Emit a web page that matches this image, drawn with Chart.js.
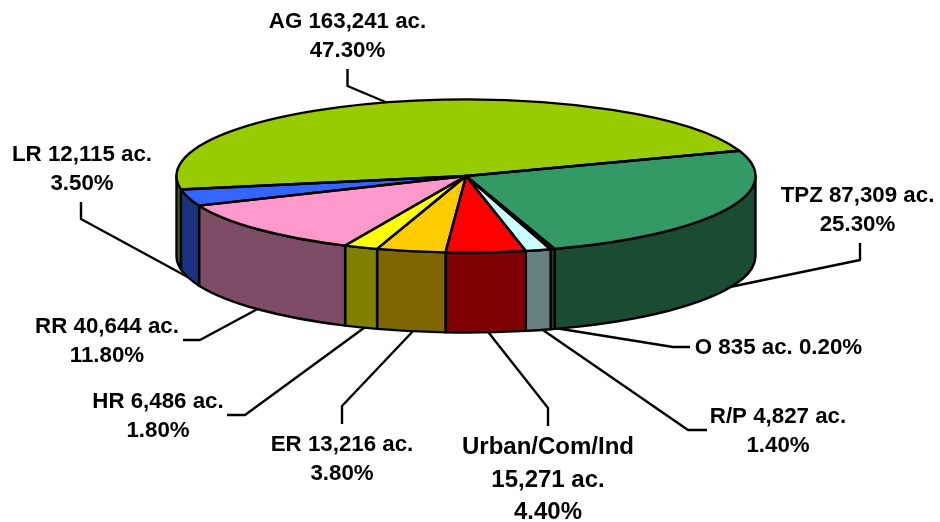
<!DOCTYPE html>
<html>
<head>
<meta charset="utf-8">
<title>Land use pie</title>
<script src="https://cdn.jsdelivr.net/npm/chart.js@4/dist/chart.umd.min.js"></script>
<style>
  html, body { margin: 0; padding: 0; background: #fff; }
  canvas { display: block; }
</style>
</head>
<body>
<canvas id="pieChart" width="940" height="522"></canvas>
<script>
const categories = ['AG', 'TPZ', 'O', 'R/P', 'Urban/Com/Ind', 'ER', 'HR', 'RR', 'LR'];
const acres = [163241, 87309, 835, 4827, 15271, 13216, 6486, 40644, 12115];
const percents = [47.3, 25.3, 0.2, 1.4, 4.4, 3.8, 1.8, 11.8, 3.5];
const colors = ['#99CC00', '#339966', '#666666', '#CCFFFF', '#FF0000', '#FFCC00', '#FFFF00', '#FF99CC', '#3366FF'];

// 3d look: squash factor of the top and height of the side wall
const squash = 0.2645;
const depth = 80;

// where each label goes: [center x, first baseline, line height, font size], then its leader line
const labelSpots = [
    [347.5, 28, 29, 22.3],
    [857.5, 202, 29, 22.3],
    [778.5, 354, 29, 22.3],
    [778, 423, 29, 22.3],
    [548, 454, 32.5, 24],
    [342, 451, 29, 22.3],
    [158, 408, 29, 22.3],
    [107, 333, 29, 22.3],
    [82, 161, 29, 22.3]
];
const leaders = [
    [[347.5, 69], [347.5, 86], [395, 106]],
    [[860, 243], [860, 260], [725, 288]],
    [[690, 347], [673, 347], [555, 328]],
    [[707, 430], [688, 430], [540, 328]],
    [[548, 426], [548, 408], [485, 328]],
    [[342, 424], [342, 406], [416, 328]],
    [[227, 415], [245, 415], [368, 325]],
    [[183, 340], [200, 340], [265, 305]],
    [[81, 202], [81, 219], [195, 281]]
];

function labelLines(i) {
    const ac = categories[i] + ' ' + acres[i].toLocaleString('en-US') + ' ac.';
    const pct = percents[i].toFixed(2) + '%';
    if (categories[i] === 'O') return [ac + ' ' + pct];
    if (categories[i] === 'Urban/Com/Ind') return [categories[i], acres[i].toLocaleString('en-US') + ' ac.', pct];
    return [ac, pct];
}

function darker(hex) {
    const n = parseInt(hex.slice(1), 16);
    const r = (n >> 16) >> 1, g = ((n >> 8) & 255) >> 1, b = (n & 255) >> 1;
    return 'rgb(' + r + ',' + g + ',' + b + ')';
}

const pie3d = {
    id: 'pie3d',
    beforeDatasetsDraw(chart) {
        const ctx = chart.ctx;
        const arcs = chart.getDatasetMeta(0).data;
        ctx.save();
        ctx.lineWidth = 2.4;
        ctx.strokeStyle = '#000';
        ctx.lineJoin = 'round';

        // leader lines go behind the pie
        leaders.forEach(pts => {
            ctx.beginPath();
            pts.forEach((p, n) => n ? ctx.lineTo(p[0], p[1]) : ctx.moveTo(p[0], p[1]));
            ctx.stroke();
        });

        arcs.forEach((arc, i) => {
            const rx = arc.outerRadius, ry = rx * squash;
            // only the front half of the ring shows a wall
            [0, Math.PI * 2].forEach(turn => {
                const a1 = Math.max(arc.startAngle, turn);
                const a2 = Math.min(arc.endAngle, turn + Math.PI);
                if (a2 <= a1) return;
                ctx.beginPath();
                ctx.ellipse(arc.x, arc.y, rx, ry, 0, a1, a2);
                ctx.ellipse(arc.x, arc.y + depth, rx, ry, 0, a2, a1, true);
                ctx.closePath();
                ctx.fillStyle = darker(colors[i]);
                ctx.fill();
                ctx.stroke();
            });
        });
        ctx.restore();

        // top of the pie is drawn flattened
        const cy = arcs[0].y;
        ctx.save();
        ctx.translate(0, cy * (1 - squash));
        ctx.scale(1, squash);
    },
    afterDatasetsDraw(chart) {
        const ctx = chart.ctx;
        ctx.restore();
        const arcs = chart.getDatasetMeta(0).data;
        ctx.save();
        ctx.lineWidth = 2.4;
        ctx.strokeStyle = '#000';
        ctx.lineJoin = 'round';
        arcs.forEach(arc => {
            const rx = arc.outerRadius, ry = rx * squash;
            ctx.beginPath();
            ctx.moveTo(arc.x, arc.y);
            ctx.ellipse(arc.x, arc.y, rx, ry, 0, arc.startAngle, arc.endAngle);
            ctx.closePath();
            ctx.stroke();
        });

        // labels
        ctx.fillStyle = '#000';
        ctx.textAlign = 'center';
        ctx.textBaseline = 'alphabetic';
        labelSpots.forEach((spot, i) => {
            ctx.font = 'bold ' + spot[3] + 'px "Liberation Sans", Arial, sans-serif';
            labelLines(i).forEach((line, n) => {
                ctx.fillText(line, spot[0], spot[1] + n * spot[2]);
            });
        });
        ctx.restore();
    }
};

new Chart(document.getElementById('pieChart'), {
    type: 'pie',
    data: {
        labels: categories,
        datasets: [{
            data: acres,
            backgroundColor: colors,
            borderWidth: 0,
            clip: false
        }]
    },
    options: {
        responsive: false,
        animation: false,
        events: [],
        rotation: 259.9,
        radius: 289.5,
        layout: { padding: { right: 8, bottom: 170 } },
        plugins: { legend: { display: false }, tooltip: { enabled: false } }
    },
    plugins: [pie3d]
});
</script>
</body>
</html>
